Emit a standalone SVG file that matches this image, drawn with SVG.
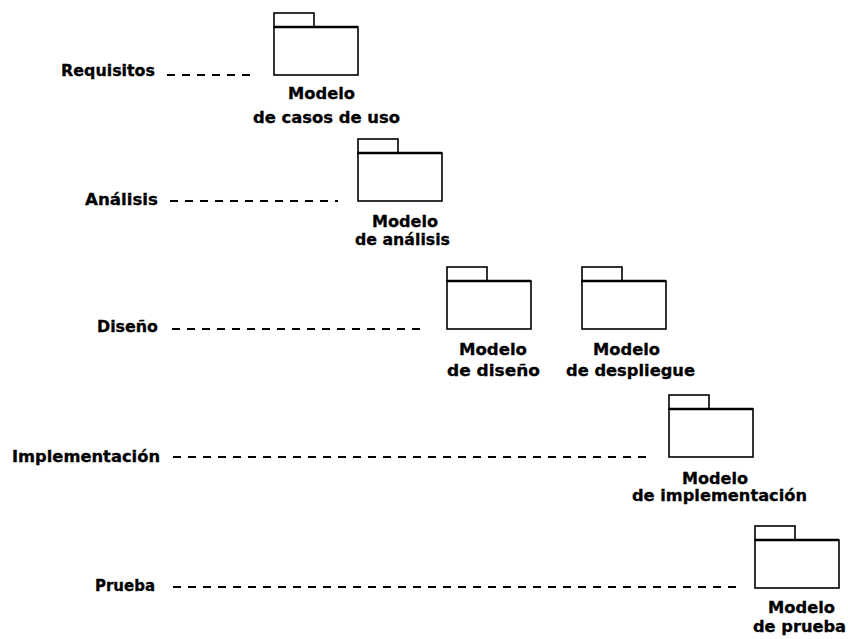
<svg xmlns="http://www.w3.org/2000/svg" width="848" height="639" viewBox="0 0 848 639">
  <style>
    .bg { fill: #ffffff; }
    .lbl { font-family: "DejaVu Sans", "Liberation Sans", sans-serif; font-weight: bold; font-size: 15px; fill: #000000; stroke: #000000; stroke-width: 0.3; }
    .pkg { fill: #ffffff; stroke: #000000; stroke-width: 1.6; }
    .pkg-top { stroke: #000000; stroke-width: 2.6; fill: none; }
    .lead { stroke: #000000; stroke-width: 1.8; stroke-dasharray: 8 7; fill: none; }
  </style>
  <defs>
    <!-- UML package icon: tab + body, origin at body top-left -->
    <g id="package">
      <rect class="pkg" x="0" y="-14" width="40" height="14"/>
      <rect class="pkg" x="0" y="0" width="84" height="48"/>
      <line class="pkg-top" x1="0" y1="0" x2="84" y2="0"/>
    </g>
  </defs>
  <rect class="bg" x="0" y="0" width="848" height="639"/>

  <!-- workflow labels -->
  <g id="workflows">
    <text class="lbl" x="61" y="76" textLength="94" lengthAdjust="spacingAndGlyphs">Requisitos</text>
    <text class="lbl" x="85" y="205" textLength="73" lengthAdjust="spacingAndGlyphs">Análisis</text>
    <text class="lbl" x="97" y="332" textLength="61" lengthAdjust="spacingAndGlyphs">Diseño</text>
    <text class="lbl" x="12" y="462" textLength="148" lengthAdjust="spacingAndGlyphs">Implementación</text>
    <text class="lbl" x="95" y="591" textLength="60" lengthAdjust="spacingAndGlyphs">Prueba</text>
  </g>

  <!-- dashed leaders from each workflow to its models -->
  <g id="connectors">
    <line class="lead" x1="167" y1="75" x2="255" y2="75"/>
    <line class="lead" x1="170" y1="201" x2="338" y2="201"/>
    <line class="lead" x1="172" y1="329" x2="426" y2="329"/>
    <line class="lead" x1="173" y1="457" x2="648" y2="457"/>
    <line class="lead" x1="173" y1="587" x2="738" y2="587"/>
  </g>

  <g id="modelo-casos-de-uso">
    <use href="#package" x="274" y="27"/>
    <text class="lbl" x="288" y="99" textLength="67" lengthAdjust="spacingAndGlyphs">Modelo</text>
    <text class="lbl" x="253" y="123" textLength="147" lengthAdjust="spacingAndGlyphs">de casos de uso</text>
  </g>

  <g id="modelo-analisis">
    <use href="#package" x="358" y="153"/>
    <text class="lbl" x="372" y="227" textLength="66" lengthAdjust="spacingAndGlyphs">Modelo</text>
    <text class="lbl" x="355" y="245" textLength="95" lengthAdjust="spacingAndGlyphs">de análisis</text>
  </g>

  <g id="modelo-diseno">
    <use href="#package" x="447" y="281"/>
    <text class="lbl" x="459" y="355" textLength="68" lengthAdjust="spacingAndGlyphs">Modelo</text>
    <text class="lbl" x="447" y="376" textLength="93" lengthAdjust="spacingAndGlyphs">de diseño</text>
  </g>

  <g id="modelo-despliegue">
    <use href="#package" x="582" y="281"/>
    <text class="lbl" x="593" y="355" textLength="67" lengthAdjust="spacingAndGlyphs">Modelo</text>
    <text class="lbl" x="566" y="376" textLength="129" lengthAdjust="spacingAndGlyphs">de despliegue</text>
  </g>

  <g id="modelo-implementacion">
    <use href="#package" x="669" y="409"/>
    <text class="lbl" x="682" y="484" textLength="66" lengthAdjust="spacingAndGlyphs">Modelo</text>
    <text class="lbl" x="632" y="501" textLength="175" lengthAdjust="spacingAndGlyphs">de implementación</text>
  </g>

  <g id="modelo-prueba">
    <use href="#package" x="755" y="540"/>
    <text class="lbl" x="768" y="613" textLength="67" lengthAdjust="spacingAndGlyphs">Modelo</text>
    <text class="lbl" x="753" y="632" textLength="93" lengthAdjust="spacingAndGlyphs">de prueba</text>
  </g>
</svg>
